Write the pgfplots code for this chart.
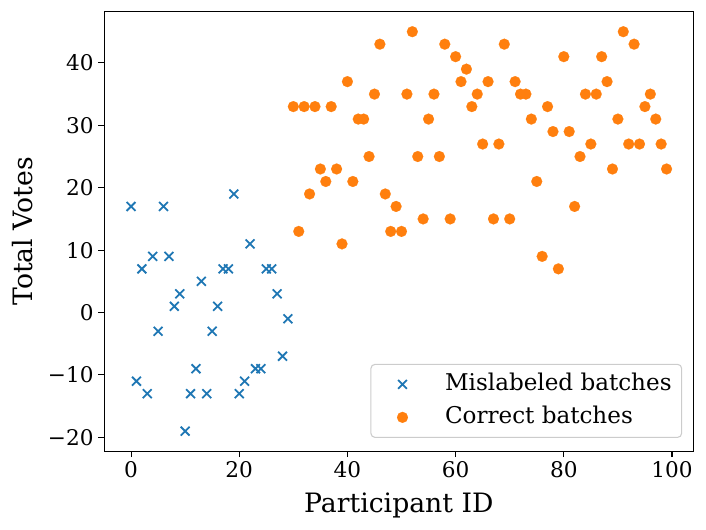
\documentclass[border=0pt]{standalone}
\usepackage{fontspec}
\setmainfont{DejaVu Serif}
\usepackage{pgfplots}
\pgfplotsset{compat=1.18}
\definecolor{tabblue}{HTML}{1F77B4}
\definecolor{taborange}{HTML}{FF7F0E}
\begin{document}
\begin{tikzpicture}
\begin{axis}[
  name=ax,
  scale only axis,
  width=441.75pt, height=329.5pt,
  xmin=-4.95, xmax=103.95, ymin=-22.2, ymax=48.2,
  xtick={0,20,40,60,80,100}, xticklabels={0,20,40,60,80,100},
  ytick={-20,-10,0,10,20,30,40}, yticklabels={−20,−10,0,10,20,30,40},
  tick align=outside, tick pos=left,
  major tick length=4.5pt,
  tick style={black, line width=0.8pt},
  axis line style={line width=0.8pt},
  ticklabel style={font=\fontsize{16.2}{19}\selectfont},
  xlabel={Participant ID}, ylabel={Total Votes},
  label style={font=\fontsize{20}{24}\selectfont},
  xlabel style={at={(axis description cs:0.5,-0.139)}, anchor=base},
  ylabel style={at={(axis description cs:-0.1211,0.5)}, anchor=base},
  legend style={at={(axis description cs:0.981,0.03)}, anchor=south east,
    draw=black!20, line width=0.8pt, rounded corners=3pt, fill=white,
    font=\fontsize{17.3}{20}\selectfont,
    inner xsep=7.5pt, inner ysep=6.5pt, row sep=7.75pt, column sep=19.5pt,
    nodes={inner sep=0pt, text height=13pt, text depth=4pt}},
  legend cell align=left,
  legend image code/.code={\path (-15.75pt,0pt) (12pt,0pt);
    \draw[mark repeat=2,mark phase=2,#1] plot coordinates {(-12pt,0pt) (0pt,0pt) (12pt,0pt)};},
]
\addplot[only marks, mark=x, color=tabblue, mark options={mark size=4.7pt, line width=1.35pt, draw=tabblue}] coordinates {
(0,17) (1,-11) (2,7) (3,-13) (4,9) (5,-3) (6,17) (7,9) (8,1) (9,3)
(10,-19) (11,-13) (12,-9) (13,5) (14,-13) (15,-3) (16,1) (17,7) (18,7) (19,19)
(20,-13) (21,-11) (22,11) (23,-9) (24,-9) (25,7) (26,7) (27,3) (28,-7) (29,-1)
};
\addlegendentry{Mislabeled batches}
\addplot[only marks, mark=*, color=taborange, mark options={mark size=4.1pt, draw=taborange, fill=taborange, line width=0.1pt}] coordinates {
(30,33) (31,13) (32,33) (33,19) (34,33) (35,23) (36,21) (37,33) (38,23) (39,11)
(40,37) (41,21) (42,31) (43,31) (44,25) (45,35) (46,43) (47,19) (48,13) (49,17)
(50,13) (51,35) (52,45) (53,25) (54,15) (55,31) (56,35) (57,25) (58,43) (59,15)
(60,41) (61,37) (62,39) (63,33) (64,35) (65,27) (66,37) (67,15) (68,27) (69,43)
(70,15) (71,37) (72,35) (73,35) (74,31) (75,21) (76,9) (77,33) (78,29) (79,7)
(80,41) (81,29) (82,17) (83,25) (84,35) (85,27) (86,35) (87,41) (88,37) (89,23)
(90,31) (91,45) (92,27) (93,43) (94,27) (95,33) (96,35) (97,31) (98,27) (99,23)
};
\addlegendentry{Correct batches}
\end{axis}
\pgfresetboundingbox
\path ([xshift=-78.2pt,yshift=-58.5pt]ax.south west) rectangle ([xshift=9.5pt,yshift=8.8pt]ax.north east);
\end{tikzpicture}
\end{document}
